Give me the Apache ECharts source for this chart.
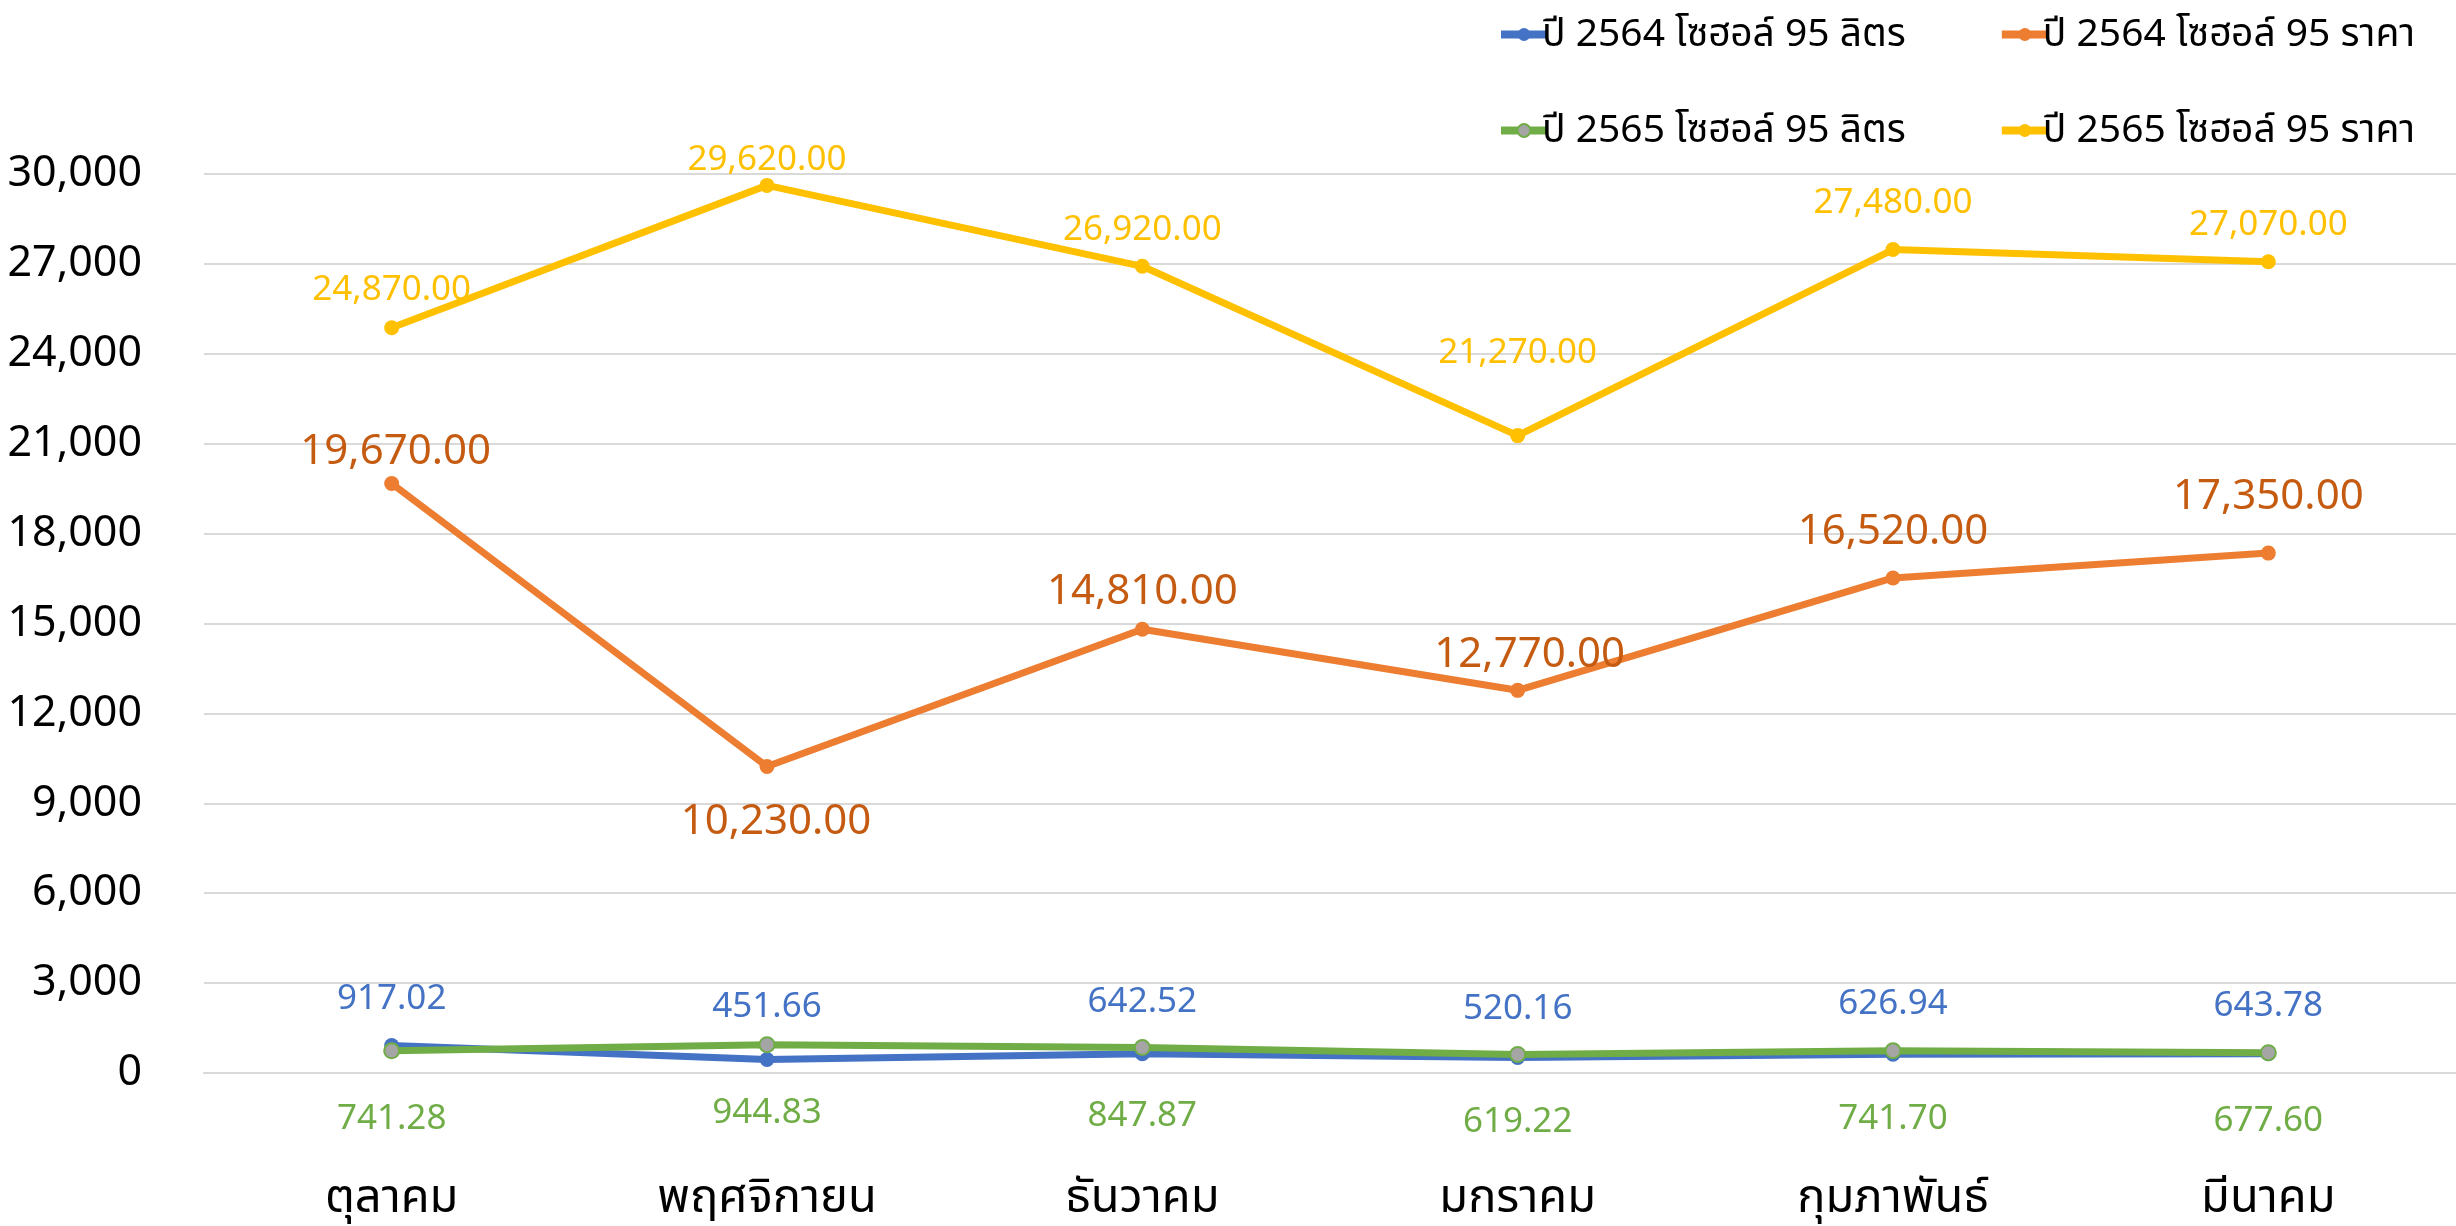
<!DOCTYPE html>
<html>
<head>
<meta charset="utf-8">
<script src="https://cdn.jsdelivr.net/npm/echarts@6/dist/echarts.min.js"></script>
<style>
html,body{margin:0;padding:0;background:#fff;}
#chart{width:2456px;height:1226px;}
</style>
</head>
<body>
<div id="chart"></div>
<script>
const months = ['ตุลาคม','พฤศจิกายน','ธันวาคม','มกราคม','กุมภาพันธ์','มีนาคม'];
const seriesNames = ['ปี 2564 โซฮอล์ 95 ลิตร','ปี 2564 โซฮอล์ 95 ราคา','ปี 2565 โซฮอล์ 95 ลิตร','ปี 2565 โซฮอล์ 95 ราคา'];
const litres2564 = [917.02, 451.66, 642.52, 520.16, 626.94, 643.78];
const price2564 = [19670, 10230, 14810, 12770, 16520, 17350];
const litres2565 = [741.28, 944.83, 847.87, 619.22, 741.70, 677.60];
const price2565 = [24870, 29620, 26920, 21270, 27480, 27070];
const yTicks = {min: 0, max: 30000, interval: 3000};

// label centre offsets from the marker (pixels, negative = above)
const labelDy = {
  0: [-46, -52, -52, -48, -50, -48],
  1: [-32, 56, -37, -35, -46, -56],
  2: [68, 68, 68, 68, 68, 68],
  3: [-38, -25, -36, -83, -46, -37]
};
const labelDx = {
  0: [0,0,0,0,0,0],
  1: [4, 9, 0, 12, 0, 0],
  2: [0,0,0,0,0,0],
  3: [0,0,0,0,0,0]
};

const FONT = '"Noto Sans", "Noto Sans Thai", Tahoma, sans-serif';
const fmt2 = v => Number(v).toLocaleString('en-US', {minimumFractionDigits: 2, maximumFractionDigits: 2});

const colors = ['#4472C4', '#ED7D31', '#70AD47', '#FFC000'];
const labelColors = ['#4472C4', '#C55A11', '#70AD47', '#FFC000'];
const labelSizes = [35, 42, 35, 35];
const dataSets = [litres2564, price2564, litres2565, price2565];
const order = [1, 3, 0, 2];

const chart = echarts.init(document.getElementById('chart'));
const series = order.map(k => ({
  name: seriesNames[k],
  type: 'line',
  data: dataSets[k],
  z: k === 2 ? 4 : 3,
  symbol: 'circle',
  symbolSize: 15,
  lineStyle: {color: colors[k], width: 7},
  itemStyle: k === 2 ? {color: '#A5A5A5', borderColor: '#70AD47', borderWidth: 2} : {color: colors[k]},
  emphasis: {disabled: true},
  label: {
    show: true,
    position: 'top',
    formatter: p => fmt2(p.value),
    color: labelColors[k],
    fontSize: labelSizes[k],
    fontFamily: FONT
  }
}));

const legendBase = {
  left: 1492,
  itemWidth: 46, itemHeight: 16, itemGap: 92,
  lineStyle: {width: 8},
  textStyle: {fontSize: 39, color: '#000', fontFamily: FONT, padding: [0,0,0,-10]}
};

chart.setOption({
  animation: false,
  color: colors,
  textStyle: {fontFamily: FONT},
  legend: [
    Object.assign({data: [seriesNames[0], seriesNames[1]], top: 10}, legendBase),
    Object.assign({data: [seriesNames[2], seriesNames[3]], top: 106}, legendBase)
  ],
  grid: {left: 204, right: 0, top: 174, bottom: 153, containLabel: false},
  xAxis: {
    type: 'category',
    data: months,
    boundaryGap: true,
    axisLine: {lineStyle: {color: '#D9D9D9', width: 2}},
    axisTick: {show: false},
    axisLabel: {fontSize: 47, color: '#000', margin: 102, fontFamily: FONT}
  },
  yAxis: {
    type: 'value',
    min: yTicks.min, max: yTicks.max, interval: yTicks.interval,
    axisLine: {show: false},
    axisTick: {show: false},
    splitLine: {lineStyle: {color: '#D9D9D9', width: 2}},
    axisLabel: {fontSize: 43, color: '#000', margin: 62, fontFamily: FONT,
      formatter: v => Number(v).toLocaleString('en-US')}
  },
  labelLayout: function (p) {
    const s = order[p.seriesIndex];
    const cx = p.rect.x + p.rect.width / 2;
    const cy = p.rect.y + p.rect.height / 2;
    return {
      x: cx + labelDx[s][p.dataIndex],
      y: cy + labelDy[s][p.dataIndex],
      align: 'center',
      verticalAlign: 'middle'
    };
  },
  series: series
});
</script>
</body>
</html>
